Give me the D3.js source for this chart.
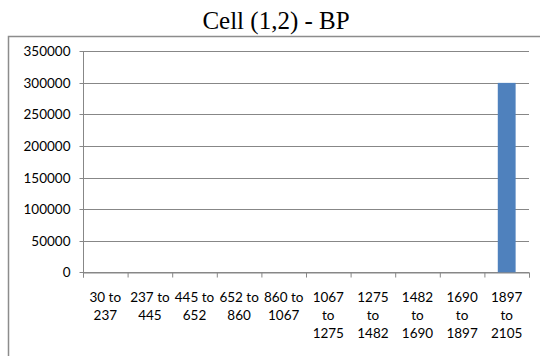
<!DOCTYPE html>
<html>
<head>
<meta charset="utf-8">
<script src="https://cdn.jsdelivr.net/npm/d3@7"></script>
<style>
  html, body { margin: 0; padding: 0; background: #fff; }
  svg { display: block; }
  .title { font-family: "Liberation Serif", "DejaVu Serif", "Noto Serif", serif; }
</style>
</head>
<body>
<svg id="chart" width="540" height="356"></svg>
<script>
const title = "Cell (1,2) - BP";
const categories = ["30 to 237", "237 to 445", "445 to 652", "652 to 860", "860 to 1067",
                    "1067 to 1275", "1275 to 1482", "1482 to 1690", "1690 to 1897", "1897 to 2105"];
const values = [0, 0, 0, 0, 0, 0, 0, 0, 0, 300000];
const yTicks = [0, 50000, 100000, 150000, 200000, 250000, 300000, 350000];

(function () {
const svg = d3.select("#chart");
const W = 540, H = 356;
const pLeft = 83, pRight = 529, pTop = 51.3, pBottom = 272.3;
const gridColor = "#878787";
const labelFont = "Lato, 'Open Sans', sans-serif";

// outer chart border
svg.append("rect")
  .attr("x", 8.5).attr("y", 36.5)
  .attr("width", W + 20).attr("height", H)
  .attr("fill", "none").attr("stroke", "#8c8c8c").attr("stroke-width", 1.5);

// title
svg.append("text")
  .attr("class", "title")
  .attr("x", 276).attr("y", 28.5)
  .attr("text-anchor", "middle")
  .attr("font-size", 25)
  .attr("fill", "#000")
  .text(title);

const y = d3.scaleLinear().domain([0, 350000]).range([pBottom, pTop]);
const x = d3.scaleBand().domain(categories).range([pLeft, pRight])
  .paddingInner(0.6).paddingOuter(0.3);
const xb = d3.scaleLinear().domain([0, categories.length]).range([pLeft, pRight]);

// gridlines
svg.append("g").selectAll("line").data(yTicks).join("line")
  .attr("x1", pLeft).attr("x2", pRight)
  .attr("y1", d => Math.round(y(d)) + 0.5).attr("y2", d => Math.round(y(d)) + 0.5)
  .attr("stroke", gridColor).attr("stroke-width", 1);

// y axis
const yAxis = svg.append("g").attr("transform", `translate(${pLeft + 0.5},0)`)
  .call(d3.axisLeft(y).tickValues(yTicks).tickSize(4).tickPadding(9).tickFormat(d3.format("d")));
yAxis.select(".domain").remove();
yAxis.selectAll(".tick").attr("transform", d => `translate(0,${Math.round(y(d)) + 0.5})`);
yAxis.selectAll(".tick line").attr("stroke", gridColor);
yAxis.selectAll(".tick text")
  .attr("font-family", labelFont).attr("font-size", 13.5).attr("fill", "#000");
svg.append("line")
  .attr("x1", pLeft + 0.5).attr("x2", pLeft + 0.5)
  .attr("y1", Math.round(y(350000)) + 0.5).attr("y2", Math.round(y(0)) + 0.5)
  .attr("stroke", gridColor);

// x axis ticks at category boundaries
const xAxis = svg.append("g").attr("transform", `translate(0,${Math.round(y(0)) + 0.5})`)
  .call(d3.axisBottom(xb).tickValues(d3.range(categories.length + 1)).tickSize(5).tickFormat(""));
xAxis.select(".domain").attr("stroke", gridColor);
xAxis.selectAll(".tick line").attr("stroke", gridColor);

// bars
svg.append("g").selectAll("rect").data(values).join("rect")
  .attr("x", (d, i) => x(categories[i]))
  .attr("width", x.bandwidth())
  .attr("y", d => y(d))
  .attr("height", d => y(0) - y(d))
  .attr("fill", "#4F81BD");

// category labels with wrapping
const labels = svg.append("g").attr("font-family", labelFont).attr("font-size", 13.5)
  .attr("fill", "#000").attr("text-anchor", "middle");
const maxW = x.step() - 3;
categories.forEach((c, i) => {
  const cx = x(c) + x.bandwidth() / 2;
  const t = labels.append("text").attr("x", cx).attr("y", pBottom + 29.5);
  const words = c.split(" ");
  const lines = [];
  let cur = [];
  const probe = labels.append("text").attr("visibility", "hidden");
  words.forEach(w => {
    const test = cur.concat([w]).join(" ");
    probe.text(test);
    if (cur.length && probe.node().getComputedTextLength() > maxW) {
      lines.push(cur.join(" "));
      cur = [w];
    } else {
      cur.push(w);
    }
  });
  lines.push(cur.join(" "));
  probe.remove();
  lines.forEach((ln, k) => {
    t.append("tspan").attr("x", cx).attr("y", pBottom + 29.5 + k * 18).text(ln);
  });
});
})();
</script>
</body>
</html>
